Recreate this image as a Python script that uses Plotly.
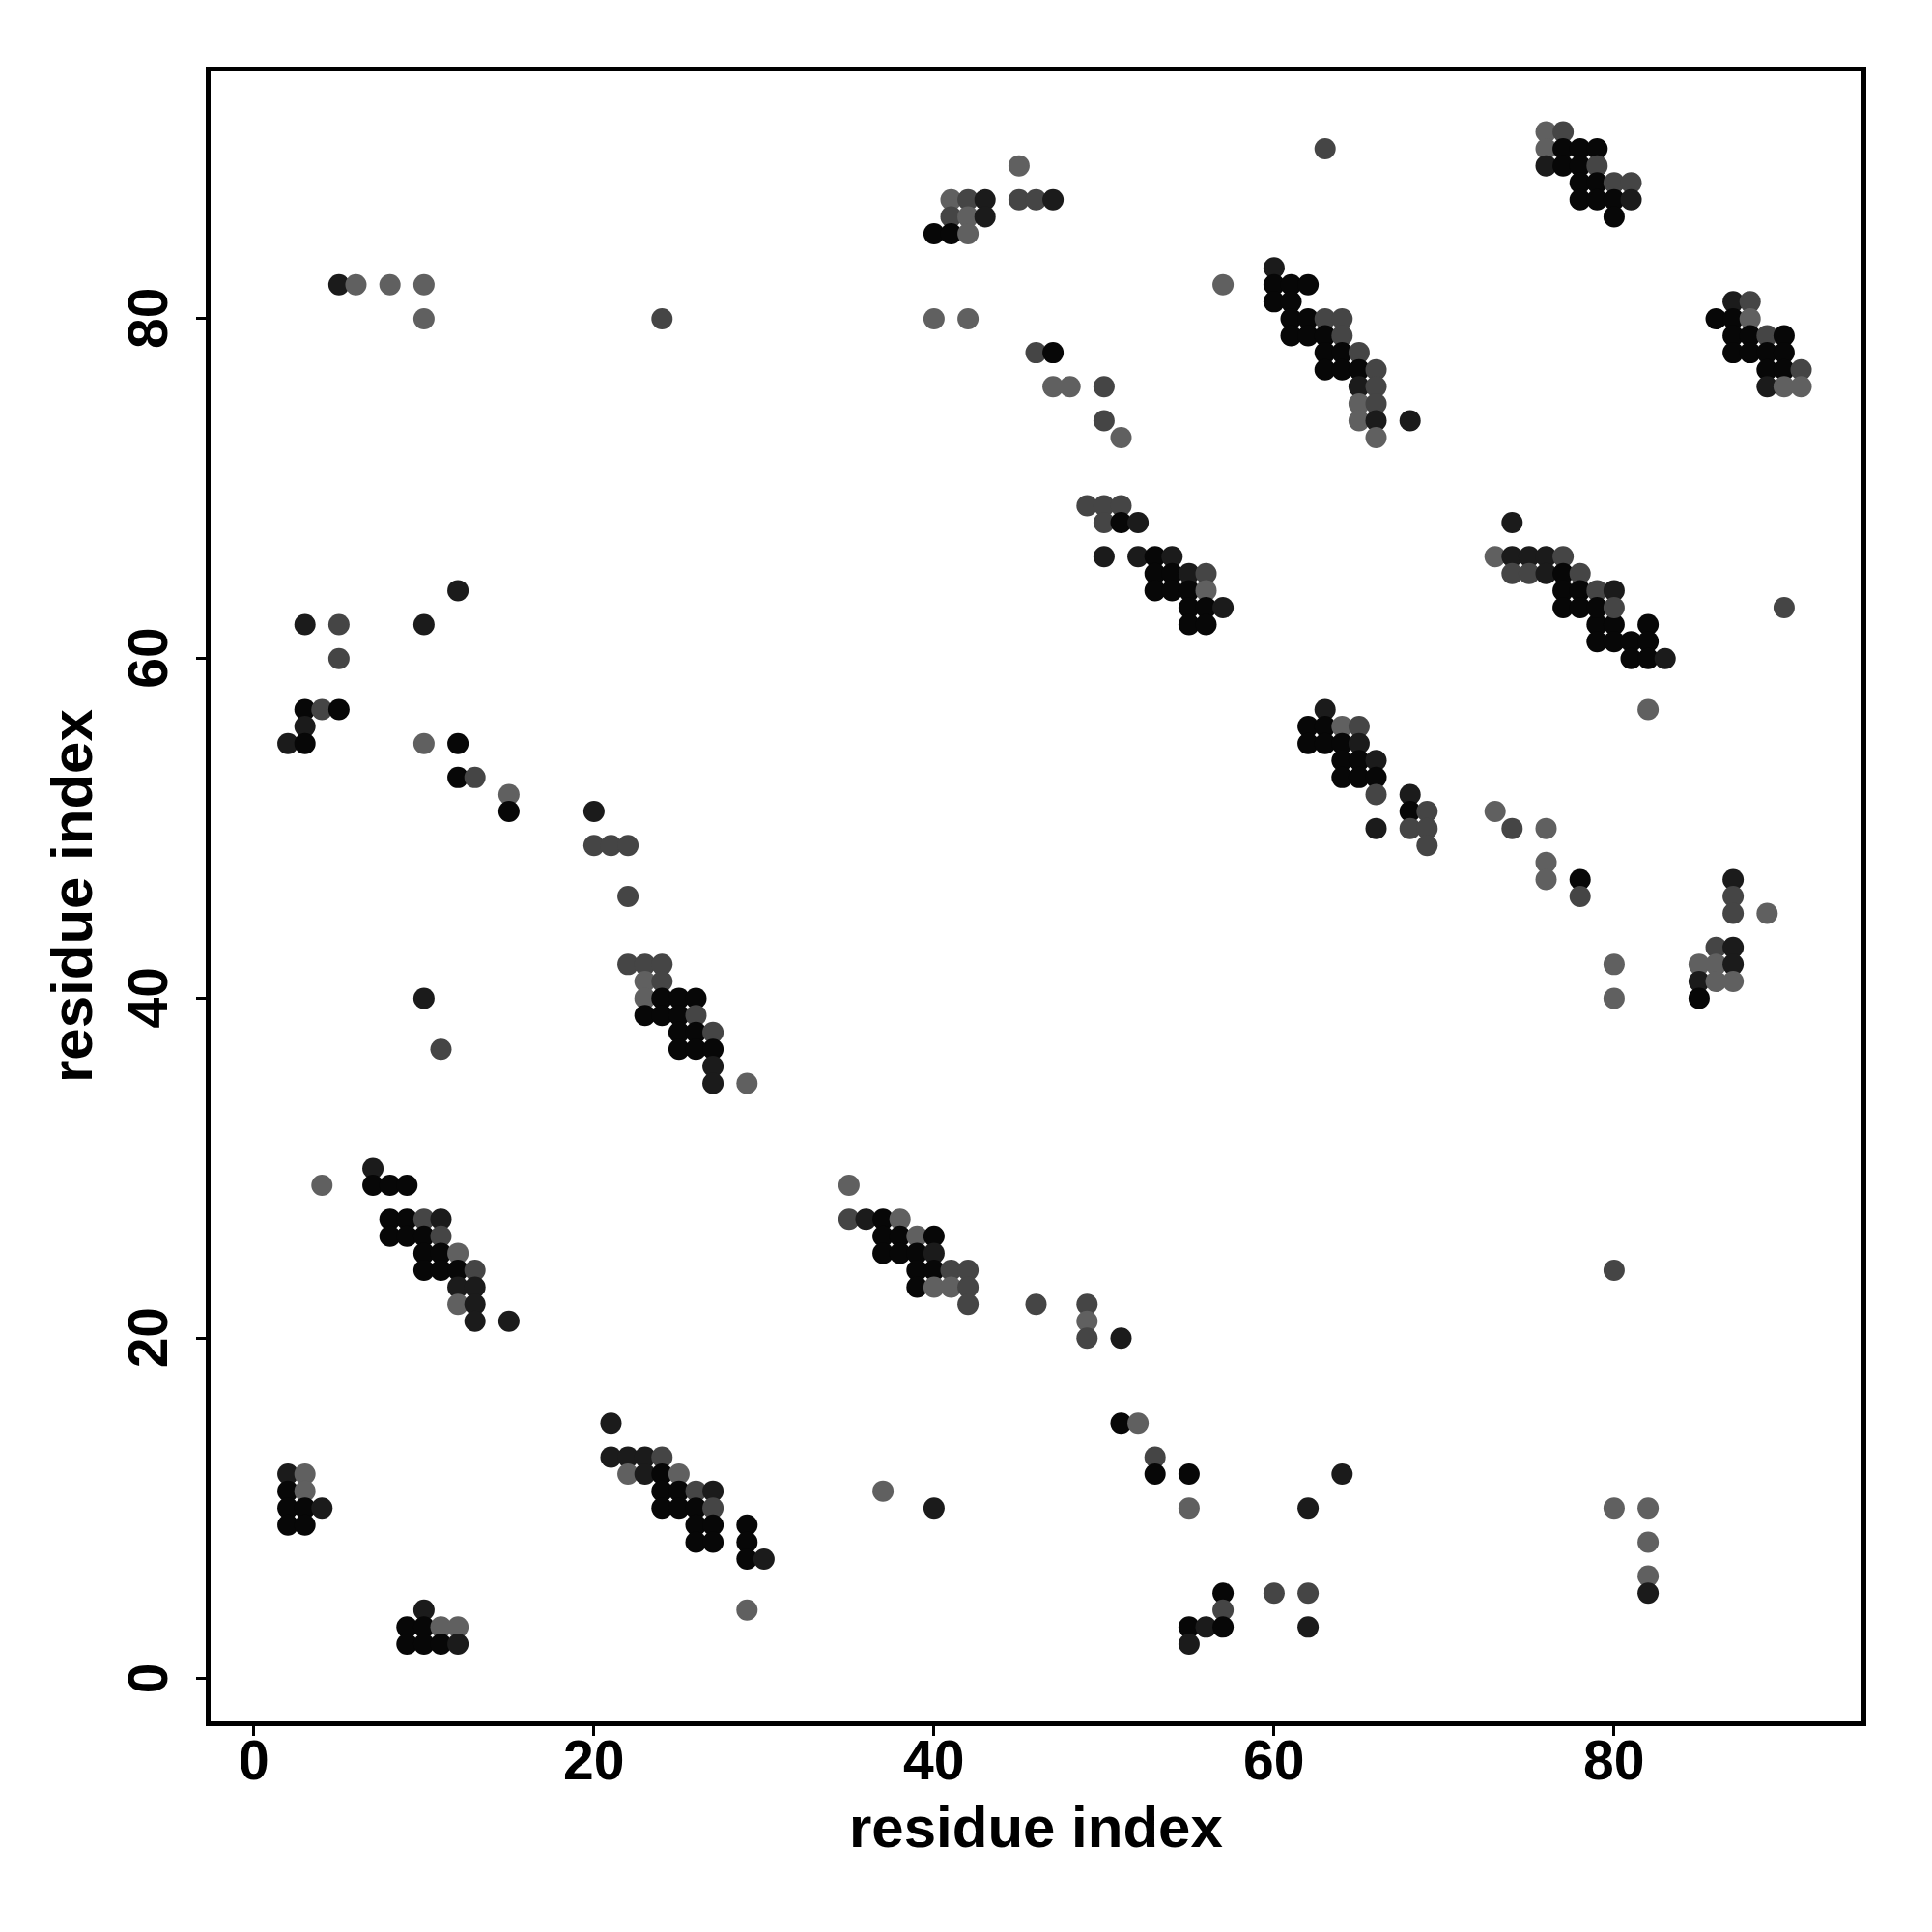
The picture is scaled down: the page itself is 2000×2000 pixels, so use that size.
import plotly.graph_objects as go

# residue i (x), residue j (y), contact score (shade: 0.95 black ... 0.3 light grey)
res_i = [
    5, 6, 8, 10, 10, 24,
    3, 5, 10, 12, 5, 3, 4, 5, 3, 2, 3,
    10, 12, 12, 13, 15, 15, 20, 20, 21, 22, 22, 10, 11,
    22, 23, 24, 23, 24, 23, 24, 25, 26,
    23, 24, 25, 26, 25, 26, 27, 25, 26, 27, 27, 27, 29,
    7, 4, 7, 8, 9, 8, 9, 10, 11, 8, 9, 10, 11,
    10, 11, 12, 10, 11, 12, 13, 12, 13, 12, 13, 13, 15,
    2, 3, 2, 3, 2, 3, 4, 2, 3,
    10, 9, 10, 11, 12, 9, 10, 11, 12,
    35, 35, 36, 37, 38, 37, 38, 39, 40, 37, 38, 39, 40,
    39, 40, 41, 42, 39, 40, 41, 42, 42, 46,
    21, 21, 22, 23, 24, 22, 23, 24, 25,
    24, 25, 26, 27, 24, 25, 26, 27,
    26, 27, 29, 26, 27, 29, 29, 30, 29, 37, 40,
    49, 49, 49, 51, 51, 52, 53, 53, 55, 64, 55, 62,
    57, 60, 62, 57, 55, 56, 57, 62, 55,
    80, 80, 82, 82, 82, 82,
    90, 79, 80, 82, 79, 80, 81, 82, 81, 82, 83, 82,
    73, 74, 76, 76, 76, 78, 78, 87, 87, 87, 89,
    86, 87, 80, 85, 86, 87, 85, 86, 87, 80, 85,
    76, 77, 76, 77, 78, 79, 76, 77, 78, 79,
    78, 79, 80, 81, 78, 79, 80, 81, 80,
    87, 88, 86, 87, 88, 87, 88, 89, 90,
    87, 88, 89, 90, 89, 90, 91, 89, 90, 91,
    74, 73, 74, 75, 76, 77, 74, 75, 76, 77, 78,
    77, 78, 79, 80, 77, 78, 79, 80,
    63, 45, 41, 42, 43, 45, 46, 47, 41, 42, 43, 40, 41, 42,
    40, 42, 57, 60, 60, 61, 62, 60, 61,
    61, 62, 63, 64, 61, 62, 63, 64, 63, 64, 65,
    63, 64, 65, 66, 65, 66, 65, 66, 65, 66, 68, 66,
    46, 47, 47, 48, 50, 50, 51,
    49, 50, 51, 50, 51, 52, 50, 52, 53, 54,
    53, 54, 55, 56, 53, 54, 55, 56, 55, 56, 57, 55, 56,
    63, 62, 63, 64, 65, 62, 63, 64, 65,
    64, 65, 66, 64, 65, 66, 66, 68, 68, 69, 66, 68, 69, 69,
]
res_j = [
    82, 82, 82, 82, 80, 80,
    62, 62, 62, 64, 60, 57, 57, 57, 56, 55, 55,
    55, 55, 53, 53, 52, 51, 51, 49, 49, 49, 46, 40, 37,
    42, 42, 42, 41, 41, 40, 40, 40, 40,
    39, 39, 39, 39, 38, 38, 38, 37, 37, 37, 36, 35, 35,
    30, 29, 29, 29, 29, 27, 27, 27, 27, 26, 26, 26, 26,
    25, 25, 25, 24, 24, 24, 24, 23, 23, 22, 22, 21, 21,
    12, 12, 11, 11, 10, 10, 10, 9, 9,
    4, 3, 3, 3, 3, 2, 2, 2, 2,
    29, 27, 27, 27, 27, 26, 26, 26, 26, 25, 25, 25, 25,
    24, 24, 24, 24, 23, 23, 23, 23, 22, 22,
    15, 13, 13, 13, 13, 12, 12, 12, 12,
    11, 11, 11, 11, 10, 10, 10, 10,
    9, 9, 9, 8, 8, 8, 7, 7, 4, 11, 10,
    22, 21, 20, 20, 15, 15, 13, 12, 12, 12, 10, 10,
    5, 5, 5, 4, 3, 3, 3, 3, 2,
    24, 10, 10, 8, 6, 5,
    63, 62, 62, 62, 61, 61, 61, 61, 60, 60, 60, 57,
    51, 50, 50, 48, 47, 47, 46, 47, 46, 45, 45,
    43, 43, 42, 42, 42, 42, 41, 41, 41, 40, 40,
    91, 91, 90, 90, 90, 90, 89, 89, 89, 89,
    88, 88, 88, 88, 87, 87, 87, 87, 86,
    81, 81, 80, 80, 80, 79, 79, 79, 79,
    78, 78, 78, 78, 77, 77, 77, 76, 76, 76,
    68, 66, 66, 66, 66, 66, 65, 65, 65, 65, 65,
    64, 64, 64, 64, 63, 63, 63, 63,
    90, 89, 87, 87, 87, 87, 87, 87, 86, 86, 86, 85, 85, 85,
    80, 80, 82, 83, 82, 82, 82, 81, 81,
    80, 80, 80, 80, 79, 79, 79, 79, 78, 78, 78,
    77, 77, 77, 77, 76, 76, 75, 75, 74, 74, 74, 73,
    78, 78, 76, 76, 76, 74, 73,
    69, 69, 69, 68, 68, 68, 66, 66, 66, 66,
    65, 65, 65, 65, 64, 64, 64, 64, 63, 63, 63, 62, 62,
    57, 56, 56, 56, 56, 55, 55, 55, 55,
    54, 54, 54, 53, 53, 53, 52, 52, 51, 51, 50, 50, 50, 49,
]
score = [
    .8, .3, .3, .3, .3, .5,
    .8, .5, .8, .8, .5, .95, .5, .95, .8, .8, .95,
    .3, .95, .95, .5, .3, .95, .8, .5, .5, .5, .5, .8, .5,
    .5, .5, .5, .3, .5, .3, .95, .95, .95,
    .95, .95, .95, .5, .95, .95, .5, .95, .95, .95, .8, .8, .3,
    .8, .3, .95, .95, .95, .95, .95, .5, .8, .95, .95, .95, .5,
    .95, .95, .3, .95, .95, .95, .5, .8, .8, .3, .8, .8, .8,
    .8, .3, .95, .3, .95, .95, .8, .95, .95,
    .8, .95, .95, .3, .3, .95, .95, .95, .8,
    .3, .5, .8, .95, .3, .95, .95, .3, .95, .95, .95, .95, .8,
    .95, .95, .5, .5, .95, .3, .3, .5, .5, .5,
    .8, .8, .8, .8, .5, .3, .8, .95, .3,
    .95, .95, .5, .8, .95, .95, .95, .5,
    .95, .95, .95, .95, .95, .95, .95, .8, .3, .3, .8,
    .5, .3, .5, .8, .95, .3, .5, .95, .95, .8, .3, .8,
    .95, .5, .5, .5, .95, .8, .95, .8, .8,
    .5, .3, .3, .3, .3, .8,
    .5, .95, .95, .95, .95, .95, .95, .95, .95, .95, .8, .3,
    .3, .5, .3, .3, .3, .95, .5, .8, .5, .5, .3,
    .5, .8, .3, .3, .3, .8, .8, .3, .3, .3, .95,
    .3, .5, .3, .95, .95, .95, .8, .95, .95, .5,
    .95, .95, .5, .5, .95, .95, .95, .8, .95,
    .8, .5, .95, .95, .3, .95, .95, .5, .95,
    .95, .95, .95, .95, .95, .95, .5, .8, .3, .3,
    .8, .3, .8, .8, .8, .5, .5, .5, .8, .95, .5,
    .95, .95, .5, .8, .95, .95, .95, .5,
    .5, .3, .3, .5, .8, .5, .5, .8, .5, .3, .8, .95, .95, .3,
    .3, .3, .3, .8, .95, .95, .95, .95, .95,
    .95, .95, .5, .5, .95, .95, .95, .5, .95, .95, .5,
    .95, .95, .95, .5, .8, .5, .3, .5, .3, .8, .8, .3,
    .5, .95, .3, .3, .5, .5, .3,
    .5, .5, .5, .5, .95, .8, .8, .8, .95, .8,
    .95, .95, .8, .5, .95, .95, .95, .3, .95, .95, .8, .95, .95,
    .8, .95, .95, .3, .5, .95, .95, .95, .8,
    .95, .95, .8, .95, .95, .95, .5, .8, .95, .5, .8, .5, .5, .5,
]
tick_vals = [0, 20, 40, 60, 80]
axis_label = "residue index"

assert len(res_i) == len(res_j) == len(score)

FONT = "Liberation Sans, Arial, sans-serif"

fig = go.Figure(go.Scatter(
    x=res_i, y=res_j, mode="markers",
    marker=dict(size=22, color=score, cmin=0.2, cmax=1.0,
                colorscale=[[0, "#6e6e6e"], [1, "#000000"]],
                line=dict(width=0), showscale=False),
    hoverinfo="skip",
))

axis_common = dict(
    range=[-2.55, 94.55], tickvals=tick_vals, showticklabels=False,
    showgrid=False, zeroline=False, showline=True, linecolor="#000000", linewidth=4.5,
    mirror=True, ticks="outside", ticklen=10, tickwidth=3, tickcolor="#000000",
)

tick_font = dict(family=FONT, size=57, color="#000000", weight="bold")
title_font = dict(family=FONT, size=60, color="#000000", weight="bold")

annotations = []
for v in tick_vals:
    annotations.append(dict(text=str(v), xref="x", yref="paper", x=v, y=0,
                            xanchor="center", yanchor="middle", yshift=-40,
                            showarrow=False, font=tick_font))
    annotations.append(dict(text=str(v), xref="paper", yref="y", x=0, y=v,
                            xanchor="center", yanchor="middle", xshift=-65,
                            textangle=-90, showarrow=False, font=tick_font))
annotations.append(dict(text=axis_label, xref="paper", yref="paper", x=0.5, y=0,
                        xanchor="center", yanchor="middle", yshift=-109,
                        showarrow=False, font=title_font))
annotations.append(dict(text=axis_label, xref="paper", yref="paper", x=0, y=0.5,
                        xanchor="center", yanchor="middle", xshift=-144,
                        textangle=-90, showarrow=False, font=title_font))

fig.update_layout(
    width=2000, height=2000,
    margin=dict(l=210, r=81, t=66, b=226, autoexpand=False),
    paper_bgcolor="#ffffff", plot_bgcolor="#ffffff",
    showlegend=False,
    xaxis=dict(**axis_common),
    yaxis=dict(**axis_common),
    annotations=annotations,
)

fig.write_html("out.html")
